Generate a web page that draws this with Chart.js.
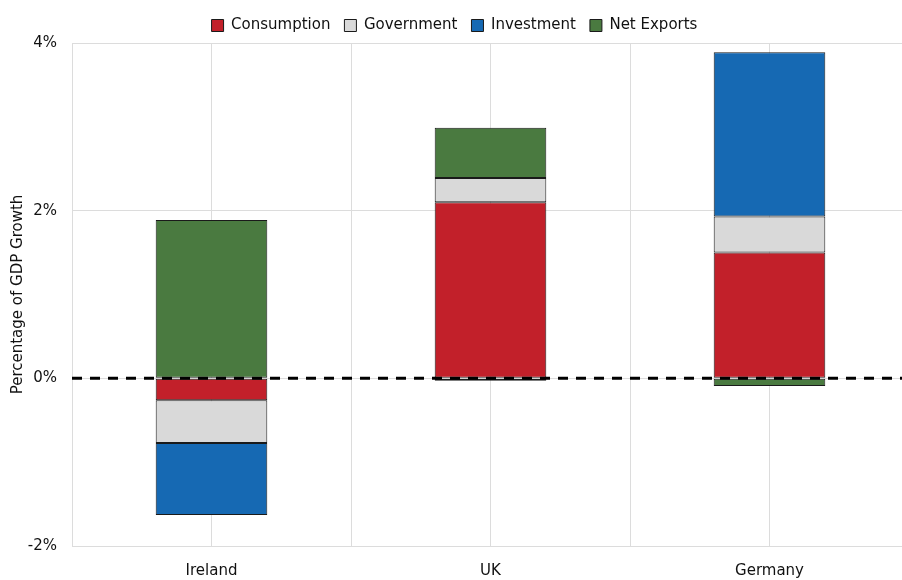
<!DOCTYPE html>
<html>
<head>
<meta charset="utf-8">
<script src="https://cdn.jsdelivr.net/npm/chart.js@4.4.0/dist/chart.umd.min.js"></script>
<style>
  html, body { margin: 0; padding: 0; background: #fff; overflow: hidden; }
  #wrap { width: 910px; height: 580px; }
</style>
</head>
<body>
<div id="wrap"><canvas id="gdpChart" width="910" height="580"></canvas></div>
<script>
const countries = ["Ireland", "UK", "Germany"];
const consumption = [-0.26, 2.1, 1.5];
const government = [-0.51, 0.29, 0.43];
const investment = [-0.86, -0.03, 1.96];
const netExports = [1.89, 0.6, -0.09];
const yTicks = [-2, 0, 2, 4];

const FONT = "'DejaVu Sans', sans-serif";

// dashed zero line drawn over the bars
const zeroLine = {
    id: "zeroLine",
    afterDatasetsDraw(chart) {
        const ctx = chart.ctx;
        const y = chart.scales.y.getPixelForValue(0);
        ctx.save();
        ctx.strokeStyle = "#000";
        ctx.lineWidth = 3;
        ctx.setLineDash([10, 8]);
        ctx.beginPath();
        ctx.moveTo(chart.chartArea.left, y);
        ctx.lineTo(chart.chartArea.right, y);
        ctx.stroke();
        ctx.restore();
    }
};

function bar(label, data, color) {
    return {
        label: label,
        data: data,
        backgroundColor: color,
        borderColor: "#1a1a1a",
        borderWidth: 1,
        borderSkipped: false,
        barPercentage: 0.4,
        categoryPercentage: 1.0
    };
}

new Chart(document.getElementById("gdpChart"), {
    type: "bar",
    data: {
        labels: countries,
        datasets: [
            bar("Consumption", consumption, "#c2202a"),
            bar("Government", government, "#d9d9d9"),
            bar("Investment", investment, "#1669b3"),
            bar("Net Exports", netExports, "#4a7a40")
        ]
    },
    options: {
        responsive: false,
        animation: false,
        layout: { padding: { top: 4, right: 1, left: 0, bottom: 0 } },
        plugins: {
            legend: {
                position: "top",
                labels: {
                    font: { family: FONT, size: 15 },
                    color: "#111",
                    boxWidth: 12,
                    boxHeight: 12,
                    padding: 14
                }
            },
            tooltip: { enabled: false }
        },
        scales: {
            x: {
                stacked: true,
                grid: { offset: true, color: "#dcdcdc", lineWidth: 1, drawTicks: false },
                border: { display: false },
                ticks: { font: { family: FONT, size: 15 }, color: "#111", padding: 16 },
                afterFit(s) { s.height = 34; }
            },
            x2: {
                type: "category",
                labels: countries,
                position: "bottom",
                offset: true,
                grid: { offset: false, color: "#dcdcdc", lineWidth: 1, drawTicks: false },
                border: { display: false },
                ticks: { display: false },
                afterFit(s) { s.height = 0; }
            },
            y: {
                stacked: true,
                min: -2,
                max: 4,
                afterBuildTicks(s) { s.ticks = yTicks.map(v => ({ value: v })); },
                grid: { color: "#dcdcdc", lineWidth: 1, drawTicks: false },
                border: { color: "#dcdcdc" },
                ticks: {
                    font: { family: FONT, size: 15 },
                    color: "#111",
                    padding: 15,
                    callback: v => v + "%"
                },
                title: {
                    display: true,
                    text: "Percentage of GDP Growth",
                    font: { family: FONT, size: 15 },
                    color: "#111",
                    padding: { top: 9, bottom: 4 }
                },
                afterFit(s) { s.width = 72; }
            }
        }
    },
    plugins: [zeroLine]
});
</script>
</body>
</html>
